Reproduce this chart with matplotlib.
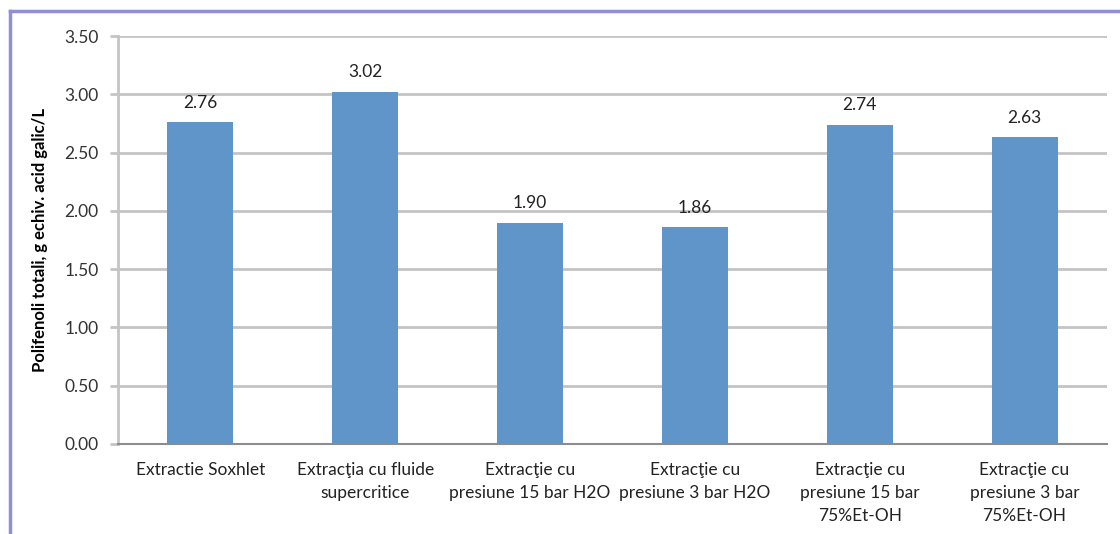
import matplotlib.pyplot as plt
from matplotlib.lines import Line2D

# total polyphenols per extraction method
categories = [
    "Extractie Soxhlet",
    "Extracţia cu fluide\nsupercritice",
    "Extracţie cu\npresiune 15 bar H2O",
    "Extracţie cu\npresiune 3 bar H2O",
    "Extracţie cu\npresiune 15 bar\n75%Et-OH",
    "Extracţie cu\npresiune 3 bar\n75%Et-OH",
]
values = [2.76, 3.02, 1.90, 1.86, 2.74, 2.63]
yticks = [0.0, 0.5, 1.0, 1.5, 2.0, 2.5, 3.0, 3.5]

plt.rcParams['font.family'] = ['Lato', 'DejaVu Sans']

fig = plt.figure(figsize=(11.2, 5.34), dpi=100)
ax = fig.add_axes([118 / 1120, (534 - 444) / 534, (1107 - 118) / 1120, 408 / 534])

x = list(range(len(categories)))
bars = ax.bar(x, values, width=0.4, color='#5f95c8', zorder=3)
for b, v in zip(bars, values):
    ax.text(b.get_x() + b.get_width() / 2, v + 0.1, f"{v:.2f}",
            ha='center', va='bottom', fontsize=12.5, color='#222222')

ax.set_xlim(-0.5, len(categories) - 0.5)
ax.set_ylim(0, 3.5)
ax.set_yticks(yticks)
ax.set_yticklabels([f"{t:.2f}" for t in yticks], fontsize=12.5, color='#333333')
ax.set_xticks(x)
ax.set_xticklabels(categories, fontsize=12.5, color='#222222', linespacing=1.55, va='top')
ax.tick_params(axis='x', length=0, pad=13)
ax.tick_params(axis='y', length=6, width=2, color='#c4c4c4', pad=8)

ax.grid(axis='y', color='#c4c4c4', linewidth=2, zorder=0)
for s in ['top', 'right']:
    ax.spines[s].set_visible(False)
ax.spines['left'].set_color('#c4c4c4')
ax.spines['left'].set_linewidth(2)
ax.spines['bottom'].set_color('#8c8c8c')
ax.spines['bottom'].set_linewidth(1.5)
ax.spines['bottom'].set_zorder(4)

ax.set_ylabel("Polifenoli totali, g echiv. acid galic/L", fontsize=12,
              fontweight='bold', labelpad=12)

# frame around the chart
border = '#8f8fd8'
fig.add_artist(Line2D([10 / 1120, 1.0], [1 - 11 / 534, 1 - 11 / 534],
                      transform=fig.transFigure, color=border, linewidth=2.5))
fig.add_artist(Line2D([10 / 1120, 10 / 1120], [0.0, 1 - 11 / 534],
                      transform=fig.transFigure, color=border, linewidth=2.5))

fig.savefig("out.png", dpi=100)
